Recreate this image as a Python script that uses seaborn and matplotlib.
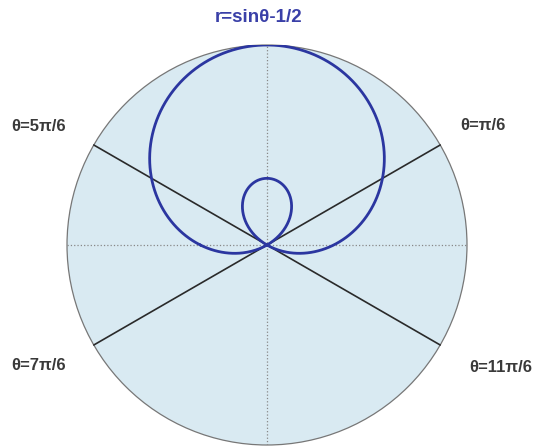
import numpy as np
import pandas as pd
import seaborn as sns
import matplotlib.pyplot as plt
from matplotlib.patches import Circle

sns.set_style("white")
plt.rcParams['font.family'] = ['Liberation Sans', 'DejaVu Sans']

# curve read from the title: r = sin(theta) - 1/2
amp = 1.0
offset = -0.5
title = "r=sin\u03b8-1/2"

# radial lines and their labels
spoke_angles = [np.pi / 6, 5 * np.pi / 6, 7 * np.pi / 6, 11 * np.pi / 6]
spoke_labels = ["\u03b8=\u03c0/6", "\u03b8=5\u03c0/6", "\u03b8=7\u03c0/6", "\u03b8=11\u03c0/6"]
label_pos = [(1.62, 0.90), (-1.71, 0.89), (-1.71, -0.90), (1.75, -0.92)]
r_max = 1.5

# build the curve
theta = np.linspace(0, 2 * np.pi, 721)
r = amp * np.sin(theta) + offset
df = pd.DataFrame({"x": r * np.cos(theta), "y": r * np.sin(theta)})

fig = plt.figure(figsize=(5.35, 4.46), dpi=100)
ax = fig.add_axes([67 / 535, 1 / 446, 400 / 535, 400 / 446])
ax.set_xlim(-r_max, r_max)
ax.set_ylim(-r_max, r_max)
ax.set_aspect("equal")
ax.axis("off")

# background disc
ax.add_patch(Circle((0, 0), r_max, facecolor="#d9eaf2", edgecolor="#777777",
                    linewidth=0.9, clip_on=False, zorder=0))

# dotted axes
ax.plot([-r_max, r_max], [0, 0], color="#888888", linestyle=":", linewidth=0.9, zorder=1)
ax.plot([0, 0], [-r_max, r_max], color="#888888", linestyle=":", linewidth=0.9, zorder=1)

# spokes through the origin
for a in spoke_angles:
    ax.plot([0, r_max * np.cos(a)], [0, r_max * np.sin(a)], color="#2a2a2a",
            linewidth=1.2, zorder=2)

# the limacon
sns.lineplot(data=df, x="x", y="y", sort=False, estimator=None, color="#2b36a0",
             linewidth=2.0, ax=ax, zorder=3)

for lab, (lx, ly) in zip(spoke_labels, label_pos):
    ax.text(lx, ly, lab, ha="center", va="center", fontsize=12, fontweight="bold",
            color="#3a3a3a", clip_on=False)

ax.text(-0.06, 1.71, title, ha="center", va="center", fontsize=13.5, fontweight="bold",
        color="#3a40a8", clip_on=False)

fig.savefig("out.png", dpi=100)
